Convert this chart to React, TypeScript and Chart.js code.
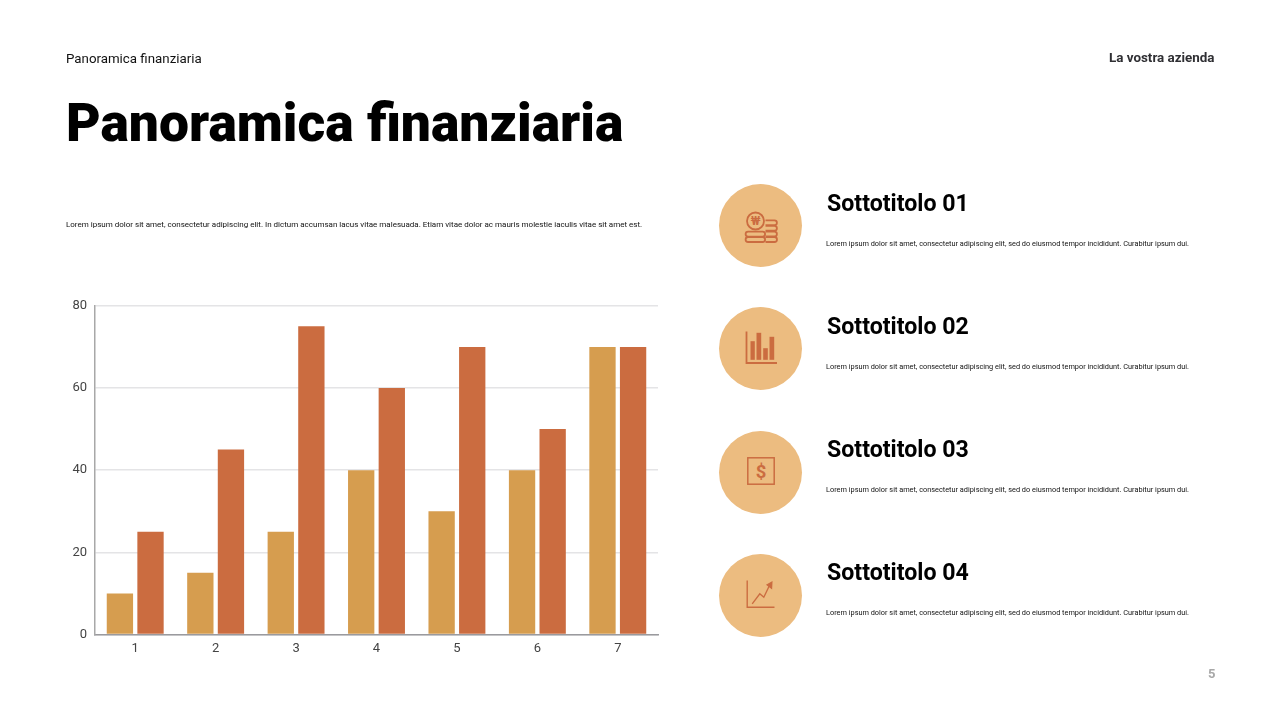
import React, { useEffect, useRef } from "react";
import { Chart, registerables } from "chart.js";

Chart.register(...registerables);

const categories = ["1", "2", "3", "4", "5", "6", "7"];
const seriesA = [10, 15, 25, 40, 30, 40, 70];
const seriesB = [25, 45, 75, 60, 70, 50, 70];
const yMax = 80;
const yStep = 20;
const heading = "Panoramica finanziaria";
const company = "La vostra azienda";
const intro =
  "Lorem ipsum dolor sit amet, consectetur adipiscing elit. In dictum accumsan lacus vitae malesuada. Etiam vitae dolor ac mauris molestie iaculis vitae sit amet est.";
const itemText =
  "Lorem ipsum dolor sit amet, consectetur adipiscing elit, sed do eiusmod tempor incididunt. Curabitur ipsum dui.";
const itemTitles = ["Sottotitolo 01", "Sottotitolo 02", "Sottotitolo 03", "Sottotitolo 04"];
const itemTops = [184, 307, 431, 554];

const ICON = "#cb6c40";
const FONT = "Roboto, sans-serif";

function abs(left: number, top: number, extra: React.CSSProperties): React.CSSProperties {
  return { position: "absolute", left, top, fontFamily: FONT, whiteSpace: "nowrap", willChange: "transform", ...extra };
}

function Icon({ i }: { i: number }) {
  const common = { fill: "none", stroke: ICON, strokeWidth: 1.8 };
  return (
    <svg width="40" height="40" viewBox="0 0 40 40" style={{ position: "absolute", left: 21.5, top: 21.5 }}>
      {i === 0 && (
        <g {...common}>
          <circle cx="14.5" cy="15" r="8.5" />
          <text x="14.5" y="19" fontSize="12" fontWeight="700" textAnchor="middle" fill={ICON} stroke="none" fontFamily={FONT}>₩</text>
          <rect x="4.6" y="25.6" width="19.5" height="5" rx="2.5" />
          <rect x="4.6" y="31" width="19.5" height="5" rx="2.5" />
          <path d="M24.5 14.3h9a2.4 2.4 0 0 1 0 4.8h-9M24.5 19.8h9a2.4 2.4 0 0 1 0 4.8h-9M24.5 25.6h9a2.4 2.4 0 0 1 0 4.8h-9M24.5 31h9a2.4 2.4 0 0 1 0 5h-9" />
        </g>
      )}
      {i === 1 && (
        <g>
          <path d="M5.5 2.5V34H36" fill="none" stroke={ICON} strokeWidth="1.8" />
          <rect x="9.5" y="12.2" width="4.3" height="18.6" fill={ICON} />
          <rect x="15.5" y="3.8" width="4.7" height="27" fill={ICON} />
          <rect x="22.2" y="19.2" width="4.6" height="11.6" fill={ICON} />
          <rect x="28.5" y="7.8" width="4.7" height="23" fill={ICON} />
        </g>
      )}
      {i === 2 && (
        <g>
          <rect x="6.8" y="4.8" width="26.4" height="26.4" fill="none" stroke={ICON} strokeWidth="1.5" />
          <text x="20" y="24.8" fontSize="18.5" fontWeight="700" textAnchor="middle" fill={ICON} fontFamily={FONT}>$</text>
        </g>
      )}
      {i === 3 && (
        <g fill="none" stroke={ICON} strokeWidth="1.4">
          <path d="M6.2 4.5V31.2H33.5" />
          <path d="M11.2 27.8L18.8 17.8L22.8 21.2L28.8 8.8" />
          <path d="M26.2 8.8L30.8 6.2L30.5 12.2Z" fill={ICON} />
        </g>
      )}
    </svg>
  );
}

export default function App() {
  const ref = useRef<HTMLCanvasElement | null>(null);
  useEffect(() => {
    const chart = new Chart(ref.current as HTMLCanvasElement, {
      type: "bar",
      data: {
        labels: categories,
        datasets: [
          { data: seriesA, backgroundColor: "#d69d4f", categoryPercentage: 0.761, barPercentage: 0.86 },
          { data: seriesB, backgroundColor: "#cb6c40", categoryPercentage: 0.761, barPercentage: 0.86 },
        ],
      },
      options: {
        responsive: false,
        animation: false,
        devicePixelRatio: 1,
        layout: { padding: { top: 15, right: 12, bottom: 0, left: 0 } },
        plugins: { legend: { display: false }, tooltip: { enabled: false } },
        scales: {
          x: {
            afterFit: (s: any) => { s.height = 26.5; },
            grid: { display: false, drawTicks: false },
            border: { color: "#9a9a9e", width: 1.5 },
            ticks: { color: "#444444", padding: 6, font: { family: "Roboto", size: 13 } },
          },
          y: {
            min: 0,
            max: yMax,
            afterFit: (s: any) => { s.width = 35; },
            grid: { color: "#e4e4e6", lineWidth: 1.5, drawTicks: false },
            border: { color: "#a8a8a8", width: 1.5 },
            ticks: { stepSize: yStep, color: "#444444", padding: 8, font: { family: "Roboto", size: 13 } },
          },
        },
      },
    });
    return () => chart.destroy();
  }, []);

  return (
    <div style={{ position: "fixed", left: 0, top: 0, width: 1280, height: 720, background: "#ffffff", overflow: "hidden" }}>
      <div style={abs(66, 50, { fontSize: 13.3, lineHeight: "17px", color: "#111" })}>{heading}</div>
      <div style={abs(1108.5, 49, { fontSize: 13.4, lineHeight: "17px", fontWeight: 700, color: "#2f2f33" })}>{company}</div>
      <div style={abs(66, 90.5, { fontSize: 53.4, lineHeight: "64px", fontWeight: 900, color: "#000" })}>{heading}</div>
      <div style={abs(66, 219, { fontSize: 8, lineHeight: "11px", color: "#111" })}>{intro}</div>
      <canvas ref={ref} width={610} height={371} style={{ position: "absolute", left: 60, top: 290, width: 610, height: 371 }} />
      {itemTitles.map((t, i) => (
        <React.Fragment key={t}>
          <div style={{ position: "absolute", left: 719, top: itemTops[i], width: 83, height: 83, borderRadius: "50%", background: "#ecbc80" }}>
            <Icon i={i} />
          </div>
          <div style={abs(827, 190 + i * 123, { fontSize: 23.15, lineHeight: "27px", fontWeight: 700, color: "#000" })}>{t}</div>
          <div style={abs(826, 239 + i * 123, { fontSize: 7.35, lineHeight: "10px", color: "#111" })}>{itemText}</div>
        </React.Fragment>
      ))}
      <div style={abs(1208, 666, { fontSize: 13, lineHeight: "16px", fontWeight: 700, color: "#a8a8a8" })}>5</div>
    </div>
  );
}
